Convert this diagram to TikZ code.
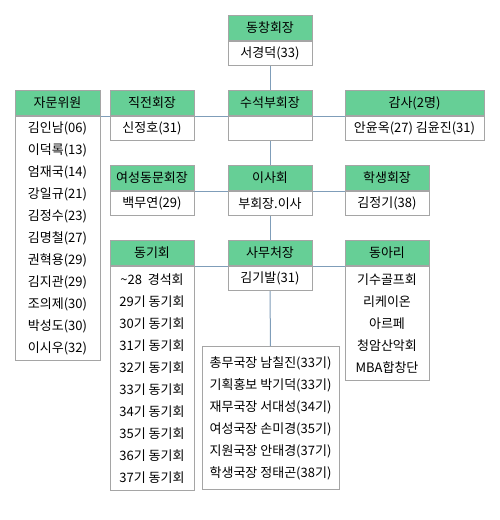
\documentclass[tikz,border=0pt]{standalone}
\usepackage{fontspec}
\setmainfont{Noto Sans CJK KR}
\usepackage{xcolor}
\definecolor{vert}{HTML}{66CF96}
\definecolor{bord}{HTML}{A5A5A5}
\definecolor{trait}{HTML}{7F9DB9}

\begin{document}
\begin{tikzpicture}[x=1pt, y=-1pt, % On travaille en points, y vers le bas
  titre/.style={draw=bord, fill=vert, line width=1pt, minimum height=25pt, inner sep=0pt, anchor=north, font=\fontsize{13}{16}\selectfont},
  corps/.style={draw=bord, fill=white, line width=1pt, minimum height=24pt, inner sep=1pt, anchor=north, align=center, font=\fontsize{13}{22}\selectfont},
  lien/.style={draw=trait, line width=1pt}]
\useasboundingbox (0,0) rectangle (500,520);

% Colonne du milieu
\node[titre, minimum width=84pt] (dcT) at (270,15) {동창회장};
\node[corps, minimum width=84pt] (dcC) at (dcT.south) {서경덕(33)};
\node[titre, minimum width=84pt] (ssT) at (270,90) {수석부회장};
\node[corps, minimum width=84pt] (ssC) at (ssT.south) {};
\node[titre, minimum width=84pt] (isT) at (270,165) {이사회};
\node[corps, minimum width=84pt] (isC) at (isT.south) {부회장.이사};
\node[titre, minimum width=84pt] (smT) at (270,240) {사무처장};
\node[corps, minimum width=84pt] (smC) at (smT.south) {김기발(31)};
\node[corps, minimum width=137pt, minimum height=143pt, align=left] (smL) at (270.5,346)
  {총무국장 남칠진(33기)\\기획홍보 박기덕(33기)\\재무국장 서대성(34기)\\여성국장 손미경(35기)\\지원국장 안태경(37기)\\학생국장 정태곤(38기)};

% Colonne de gauche
\node[titre, minimum width=85pt] (jmT) at (57.5,90) {자문위원};
\node[corps, minimum width=85pt, minimum height=244pt] (jmC) at (jmT.south)
  {김인남(06)\\이덕록(13)\\엄재국(14)\\강일규(21)\\김정수(23)\\김명철(27)\\권혁용(29)\\김지관(29)\\조의제(30)\\박성도(30)\\이시우(32)};
\node[titre, minimum width=84pt] (jjT) at (152,90) {직전회장};
\node[corps, minimum width=84pt] (jjC) at (jjT.south) {신정호(31)};
\node[titre, minimum width=84pt] (ysT) at (152,165) {여성동문회장};
\node[corps, minimum width=84pt] (ysC) at (ysT.south) {백무연(29)};
\node[titre, minimum width=84pt] (dgT) at (152,240) {동기회};
\node[corps, minimum width=84pt, minimum height=224pt] (dgC) at (dgT.south)
  {\textasciitilde28\ \ 경석회\\29기 동기회\\30기 동기회\\31기 동기회\\32기 동기회\\33기 동기회\\34기 동기회\\35기 동기회\\36기 동기회\\37기 동기회};

% Colonne de droite
\node[titre, minimum width=139pt] (gsT) at (414.5,90) {감사(2명)};
\node[corps, minimum width=139pt] (gsC) at (gsT.south) {안윤옥(27) 김윤진(31)};
\node[titre, minimum width=84pt] (hsT) at (387,165) {학생회장};
\node[corps, minimum width=84pt] (hsC) at (hsT.south) {김정기(38)};
\node[titre, minimum width=84pt] (daT) at (387,240) {동아리};
\node[corps, minimum width=84pt, minimum height=114pt] (daC) at (daT.south)
  {기수골프회\\리케이온\\아르페\\청암산악회\\MBA합창단};

% Les traits verticaux
\draw[lien] (dcC.south) -- (ssT.north);
\draw[lien] (ssC.south) -- (isT.north);
\draw[lien] (isC.south) -- (smT.north);
\draw[lien] (smC.south) -- (smL.north);
% Les traits horizontaux
\draw[lien] (jmT.south east) -- (jjT.south west);
\draw[lien] (jjT.south east) -- (ssT.south west);
\draw[lien] (ssT.south east) -- (gsT.south west);
\draw[lien] (ysT.south east) -- (isT.south west);
\draw[lien] (isT.south east) -- (hsT.south west);
\draw[lien] (dgT.south east) -- (smT.south west);
\draw[lien] (smT.south east) -- (daT.south west);
\end{tikzpicture}
\end{document}
